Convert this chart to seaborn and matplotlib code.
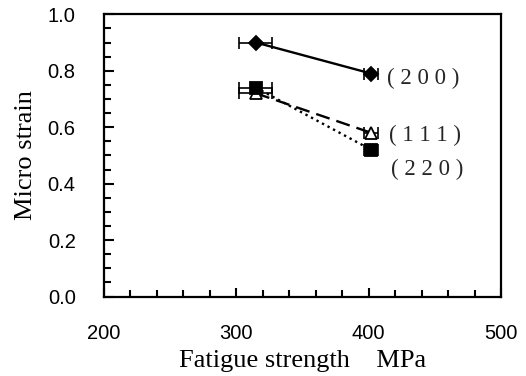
import matplotlib
matplotlib.use("Agg")
import matplotlib.pyplot as plt
import seaborn as sns
import pandas as pd
from matplotlib.ticker import MultipleLocator

# Data
fatigue = [315, 402]
strain_200 = [0.90, 0.79]
strain_111 = [0.72, 0.58]
strain_220 = [0.74, 0.52]
xerr_vals = [12.5, 5.5]
labels = ["( 2 0 0 )", "( 1 1 1 )", "( 2 2 0 )"]

sns.set_theme(style="ticks")
plt.rcParams['font.family'] = ['Liberation Sans', 'DejaVu Sans']

fig = plt.figure(figsize=(5.26, 3.76), dpi=100)
ax = fig.add_axes([0.1968, 0.2114, 0.9525 - 0.1968, 0.962 - 0.2114])

series = [
    (strain_200, "-", "D", "black", 7.0, labels[0], (11.5, -3.6)),
    (strain_111, (0, (6, 3)), "^", "white", 9.0, labels[1], (13, -2.2)),
    (strain_220, ":", "s", "black", 8.5, labels[2], (14.5, -14.4)),
]

for vals, ls, mk, fc, ms, lab, off in series:
    df = pd.DataFrame({"x": fatigue, "y": vals})
    ax.errorbar(fatigue, vals, xerr=xerr_vals, fmt="none", ecolor="black",
                elinewidth=1.2, capsize=4, capthick=1.2, zorder=2)
    sns.lineplot(data=df, x="x", y="y", ax=ax, color="black", linestyle=ls,
                 linewidth=1.7, marker=mk, markersize=ms, markerfacecolor=fc,
                 markeredgecolor="black", markeredgewidth=1.3, zorder=3)
    ax.annotate(lab, xy=(fatigue[-1], vals[-1]), xytext=off,
                textcoords="offset points", ha="left", va="center",
                fontsize=16.5, family="Liberation Serif")

ax.set_xlim(200, 500)
ax.set_ylim(0.0, 1.0)
ax.xaxis.set_major_locator(MultipleLocator(100))
ax.xaxis.set_minor_locator(MultipleLocator(20))
ax.yaxis.set_major_locator(MultipleLocator(0.2))
ax.yaxis.set_minor_locator(MultipleLocator(0.05))
ax.set_yticks([0.0, 0.2, 0.4, 0.6, 0.8, 1.0])
ax.set_yticklabels(["0.0", "0.2", "0.4", "0.6", "0.8", "1.0"])

ax.tick_params(which="both", direction="in", color="black", width=1.5,
               labelsize=14.5, labelcolor="black")
ax.tick_params(axis="y", which="major", length=7, pad=20)
ax.tick_params(axis="y", which="minor", length=5)
ax.tick_params(axis="x", which="major", length=6.5, pad=20)
ax.tick_params(axis="x", which="minor", length=5)

for s in ax.spines.values():
    s.set_visible(True)
    s.set_color("black")
    s.set_linewidth(1.6)

ax.set_xlabel("Fatigue strength    MPa", fontsize=19,
              family="Liberation Serif", color="black", labelpad=5)
ax.set_ylabel("Micro strain", fontsize=19,
              family="Liberation Serif", color="black", labelpad=8)

fig.savefig("out.png", dpi=100)
